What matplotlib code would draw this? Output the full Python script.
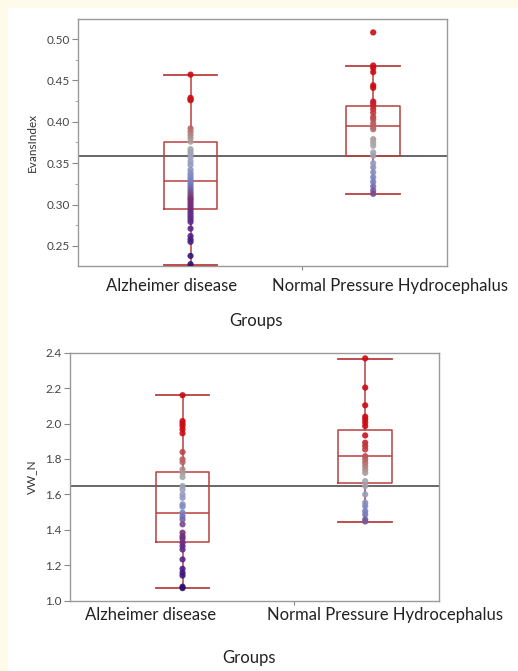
import matplotlib
matplotlib.use("Agg")
import matplotlib.pyplot as plt
import numpy as np
from matplotlib.colors import LinearSegmentedColormap, Normalize
from matplotlib.patches import Rectangle

plt.rcParams['font.family'] = ['Lato', 'DejaVu Sans']

# ---------------- data ----------------
groups = ["Alzheimer disease", "Normal Pressure Hydrocephalus"]

evans_ad = [0.457, 0.429, 0.427, 0.426, 0.392, 0.388, 0.384, 0.380, 0.376,
            0.367, 0.364, 0.361, 0.357, 0.352, 0.348, 0.342, 0.338, 0.335,
            0.332, 0.329, 0.326, 0.323, 0.320, 0.317, 0.314, 0.311, 0.308,
            0.306, 0.303, 0.300, 0.297, 0.294, 0.291, 0.288, 0.285, 0.282,
            0.279, 0.271, 0.262, 0.258, 0.255, 0.238, 0.228]
evans_nph = [0.508, 0.468, 0.465, 0.460, 0.444, 0.441, 0.4245, 0.422, 0.419,
             0.415, 0.411, 0.406, 0.403, 0.398, 0.394, 0.391, 0.379, 0.375,
             0.371, 0.363, 0.359, 0.350, 0.345, 0.339, 0.333, 0.3275, 0.322,
             0.317, 0.313]
evans_stats = [dict(med=0.329, q1=0.295, q3=0.375, whislo=0.227, whishi=0.457),
               dict(med=0.395, q1=0.359, q3=0.4185, whislo=0.313, whishi=0.468)]
evans_mean = 0.3585

vw_ad = [2.160, 2.014, 2.000, 1.986, 1.967, 1.945, 1.839, 1.798, 1.782, 1.741,
         1.722, 1.698, 1.647, 1.628, 1.600, 1.581, 1.544, 1.531, 1.497, 1.477,
         1.459, 1.431, 1.384, 1.364, 1.350, 1.327, 1.308, 1.289, 1.233, 1.180,
         1.158, 1.142, 1.079, 1.071]
vw_nph = [2.368, 2.203, 2.103, 2.039, 2.024, 2.006, 1.986, 1.933, 1.892, 1.873,
          1.854, 1.816, 1.798, 1.779, 1.760, 1.741, 1.722, 1.675, 1.647, 1.600,
          1.553, 1.534, 1.506, 1.487, 1.459, 1.447]
vw_stats = [dict(med=1.497, q1=1.334, q3=1.726, whislo=1.072, whishi=2.159),
            dict(med=1.817, q1=1.666, q3=1.966, whislo=1.445, whishi=2.364)]
vw_mean = 1.647

evans_ticks = [0.25, 0.30, 0.35, 0.40, 0.45, 0.50]
vw_ticks = [1.0, 1.2, 1.4, 1.6, 1.8, 2.0, 2.2, 2.4]

# ---------------- style ----------------
W, H = 518, 671
fig = plt.figure(figsize=(W / 100, H / 100), dpi=100)
fig.patch.set_facecolor('#fffbea')
fig.patches.append(Rectangle((8 / W, 0), 1 - 8 / W, 1 - 8 / H,
                             transform=fig.transFigure, facecolor='white',
                             edgecolor='none', zorder=-10))

box_col = '#b8403f'
point_cmap = LinearSegmentedColormap.from_list(
    'jmp', [(0.0, '#2e0f6e'), (0.22, '#5a2a92'), (0.38, '#7a3070'),
            (0.48, '#7482c4'), (0.62, '#9ca0bc'), (0.72, '#a8a8a8'),
            (0.82, '#b86060'), (1.0, '#cc0a14')])

pos = [0.305, 0.80]
half_w = 0.073


def draw_panel(ax_rect, data, stats, mean, ylim, yticks, fmt, ylabel,
               minor, cnorm, lab_y, lab_x, grp_xy):
    ax = fig.add_axes(ax_rect)
    ax.set_xlim(0, 1)
    ax.set_ylim(*ylim)
    for s in ax.spines.values():
        s.set_color('#9a9a9a')
        s.set_linewidth(1.0)
    ax.axhline(mean, color='#666666', lw=1.4, zorder=2)
    ax.bxp([dict(d) for d in stats], positions=pos, widths=2 * half_w,
           showfliers=False,
           boxprops=dict(color=box_col, lw=1.1),
           medianprops=dict(color=box_col, lw=1.1),
           whiskerprops=dict(color=box_col, lw=1.1),
           capprops=dict(color=box_col, lw=1.3),
           capwidths=2 * half_w, zorder=3)
    for p, vals in zip(pos, data):
        vals = np.asarray(vals)
        ax.scatter(np.full(len(vals), p), vals, s=20, c=vals, cmap=point_cmap,
                   norm=cnorm, edgecolors='none', alpha=0.9, zorder=4)
    ax.set_yticks(yticks)
    ax.set_yticklabels([fmt.format(t) for t in yticks])
    ax.tick_params(axis='y', length=4, width=0.8, color='#888888',
                   labelsize=8.5, labelcolor='#444444', pad=2)
    if minor:
        ax.set_yticks(minor, minor=True)
        ax.tick_params(axis='y', which='minor', length=2, width=0.7,
                       color='#aaaaaa')
    ax.set_xticks([0.607])
    ax.set_xticklabels([''])
    ax.tick_params(axis='x', length=3, width=0.8, color='#888888')
    ax.set_ylabel(ylabel, fontsize=8.5, color='#333333', labelpad=6)
    for x, g in zip(lab_x, groups):
        fig.text(x, lab_y, g, ha='center', va='center', fontsize=12,
                 color='#222222')
    fig.text(grp_xy[0], grp_xy[1], 'Groups', ha='center', va='center',
             fontsize=12, color='#222222')
    return ax


top_minor = [0.275, 0.325, 0.375, 0.425, 0.475]
draw_panel([78 / W, 1 - 266 / H, 369 / W, 247 / H], [evans_ad, evans_nph],
           evans_stats, evans_mean, (0.2258, 0.5242), evans_ticks, '{:.2f}',
           'EvansIndex', top_minor, Normalize(0.23, 0.43),
           1 - 286 / H, [172 / W, 390 / W], (256 / W, 1 - 321 / H))

draw_panel([70 / W, 1 - 600.7 / H, 369 / W, 248 / H], [vw_ad, vw_nph],
           vw_stats, vw_mean, (1.0, 2.4), vw_ticks, '{:.1f}',
           'VW_N', None, Normalize(1.07, 1.95),
           1 - 615 / H, [150.5 / W, 385 / W], (249 / W, 1 - 658 / H))

fig.savefig('out.png', dpi=100, facecolor=fig.get_facecolor())
